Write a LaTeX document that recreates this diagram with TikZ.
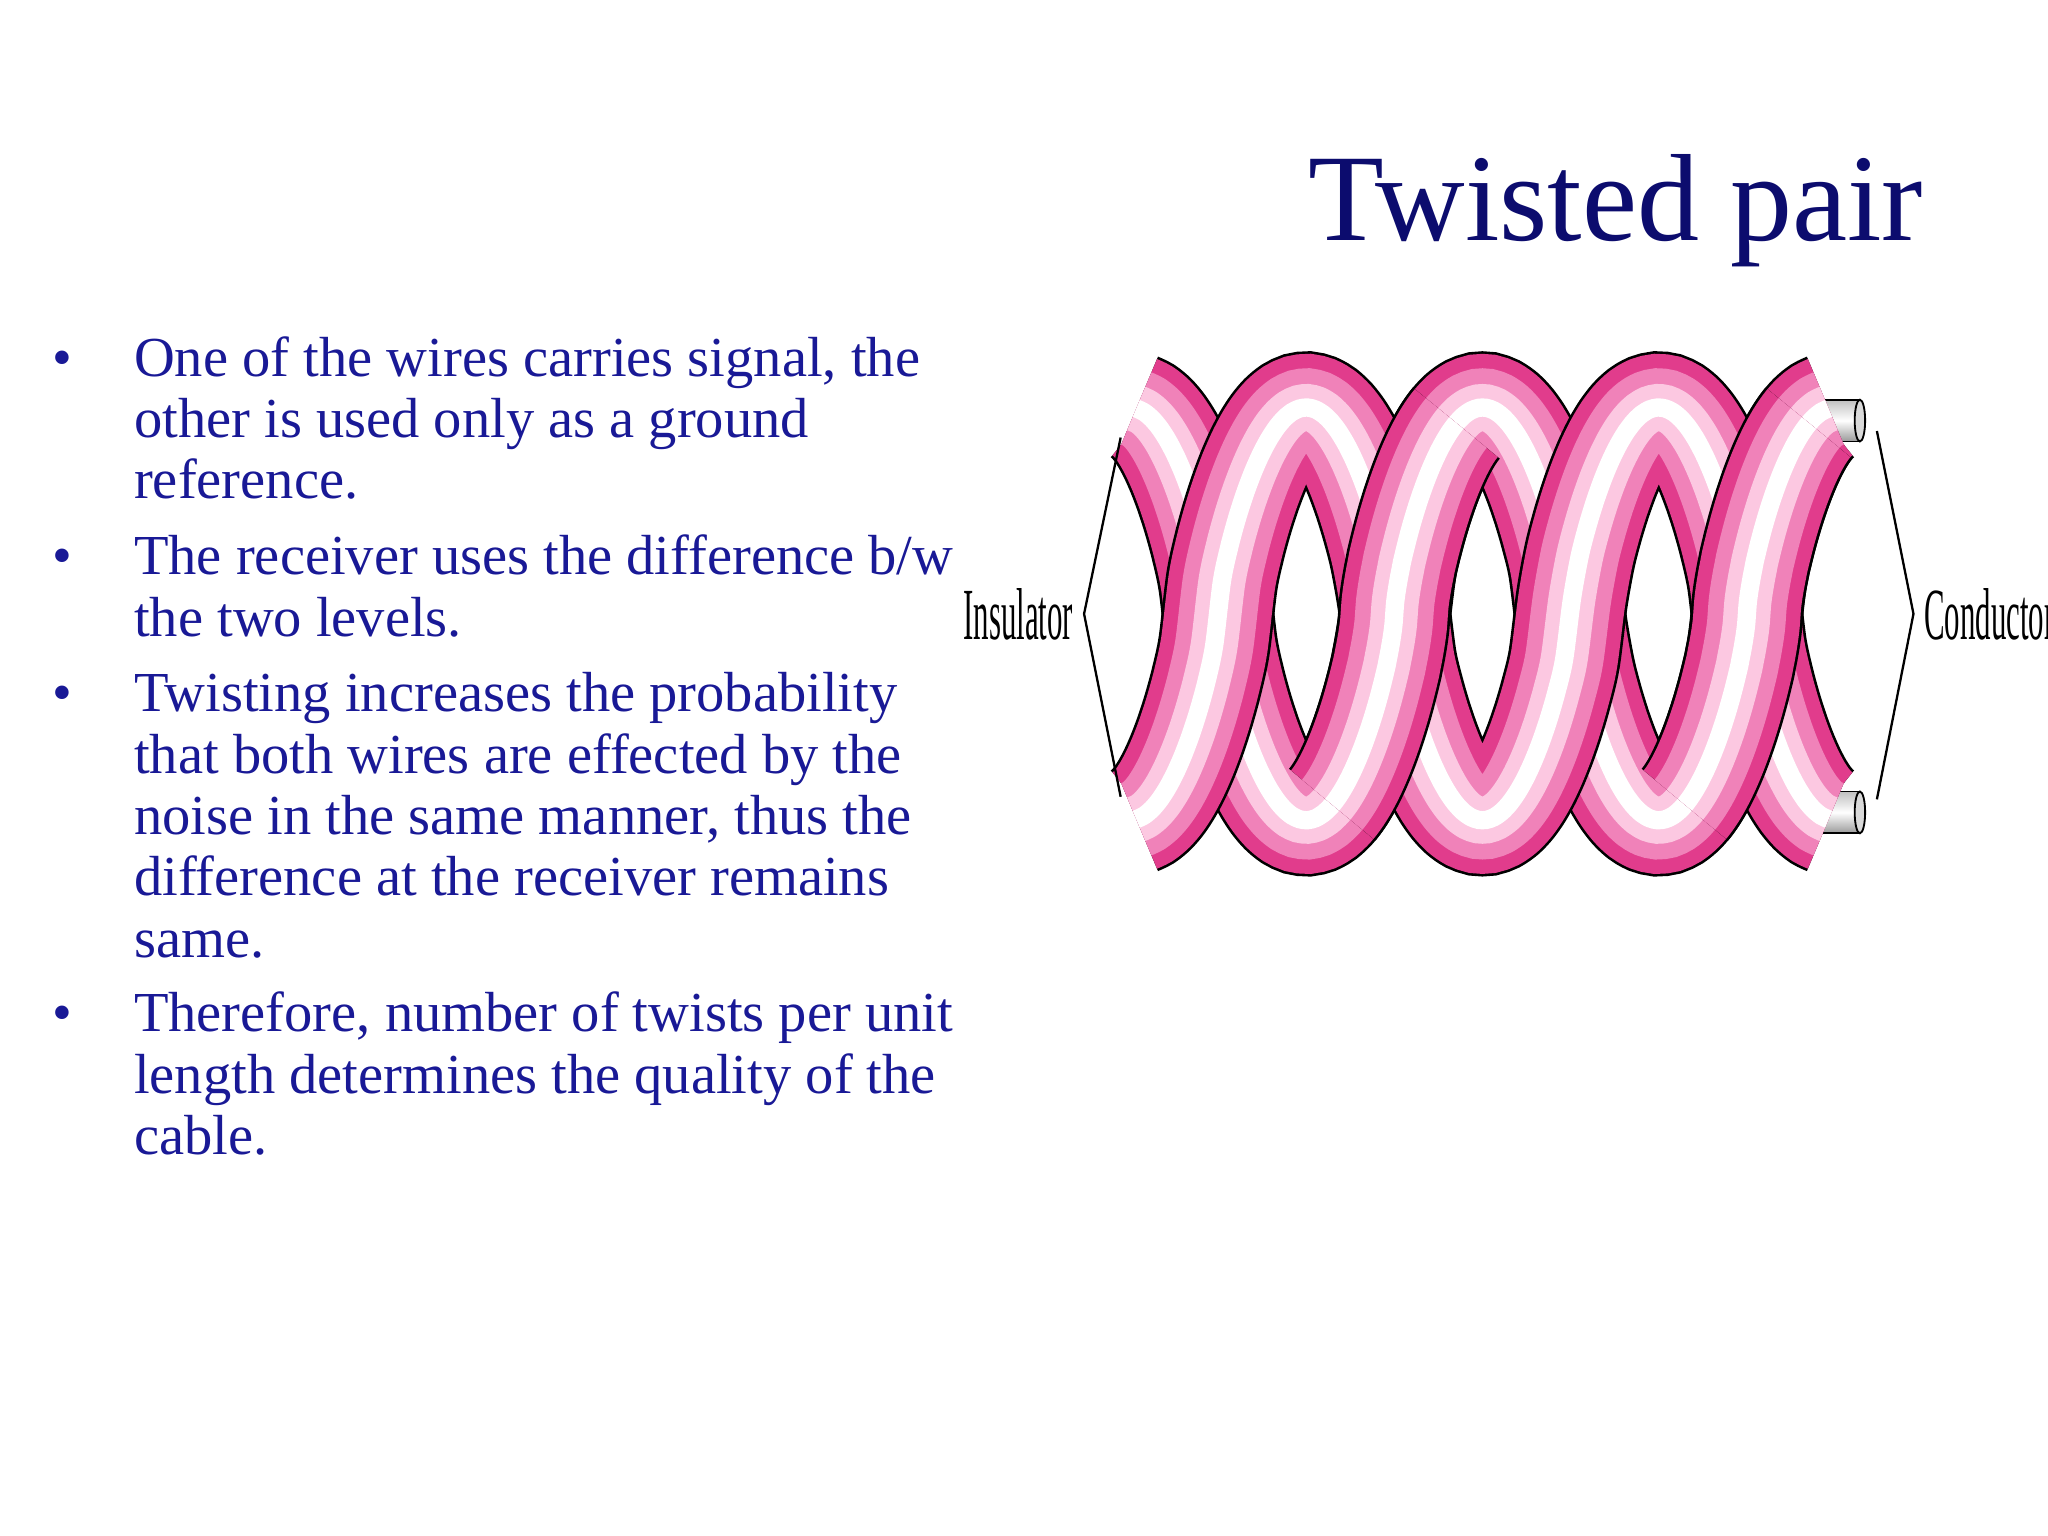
\documentclass[tikz,border=0pt]{standalone}
\usepackage{fontspec}
\setmainfont{Liberation Serif}
\definecolor{navy}{RGB}{12,12,110}
\definecolor{txt}{RGB}{25,25,150}
\definecolor{pinkA}{RGB}{225,60,140}
\definecolor{pinkM}{RGB}{240,130,185}
\definecolor{pinkB}{RGB}{252,200,225}
\newcommand{\wireseg}[3]{% sign, from, to
  \foreach \w/\c in {0.86/black,0.82/pinkA,0.6/pinkM,0.36/pinkB,0.14/white}{
    \draw[\c,line width=\w cm,line cap=butt] plot[domain=#2:#3,samples=90,smooth]
      (\x,{470-#1*158*sign(cos(deg(2*pi*(\x-1000)/270)))*abs(cos(deg(2*pi*(\x-1000)/270)))^0.7});
  }}
\begin{document}
\begin{tikzpicture}[x=0.01cm,y=-0.01cm,
  body/.style={anchor=base west,inner sep=0,text=txt,font=\fontsize{12.3pt}{13pt}\selectfont},
  bul/.style={anchor=base,inner sep=0,text=txt,font=\fontsize{12.3pt}{13pt}\selectfont},
  lbl/.style={inner sep=0,font=\fontsize{16pt}{16pt}\selectfont,xscale=0.42}]
\useasboundingbox (0,0) rectangle (1568,1176);
\node[anchor=base east,inner sep=0,text=navy,font=\fontsize{27pt}{30pt}\selectfont] (title) at (1473,184) {Twisted pair};
% bullets
\foreach \y in {288,440,545,790} \node[bul] at (48,\y) {•};
\node[body] (l1) at (102,288) {One of the wires carries signal, the};
\node[body] (l2) at (102,335) {other is used only as a ground};
\node[body] (l3) at (102,382) {reference.};
\node[body] (l4) at (102,440) {The receiver uses the difference b/w};
\node[body] (l5) at (102,487) {the two levels.};
\node[body] (l6) at (102,545) {Twisting increases the probability};
\node[body] (l7) at (102,592) {that both wires are effected by the};
\node[body] (l8) at (102,639) {noise in the same manner, thus the};
\node[body] (l9) at (102,686) {difference at the receiver remains};
\node[body] (l10) at (102,733) {same.};
\node[body] (l11) at (102,790) {Therefore, number of twists per unit};
\node[body] (l12) at (102,837) {length determines the quality of the};
\node[body] (l13) at (102,884) {cable.};
% conductors
\foreach \yy in {322,622}{
  \shade[top color=gray!50,bottom color=gray!80,middle color=white,draw=black,line width=0.4pt] (1395,\yy-16) rectangle (1424,\yy+16);
  \draw[line width=0.4pt,fill=gray!30] (1424,\yy) ellipse (4 and 16);
}
% wires
\wireseg{-1}{870}{1400}
\wireseg{1}{870}{1400}
\wireseg{-1}{1020}{1115}
\wireseg{-1}{1290}{1385}
% braces
\draw[line width=0.5pt] (858,335) -- (830,470) -- (858,610);
\draw[line width=0.5pt] (1437,330) -- (1465,470) -- (1437,612);
\node[lbl,anchor=east] (ins) at (822,470) {Insulator};
\node[lbl,anchor=west] (con) at (1473,470) {Conductors};
\end{tikzpicture}
\end{document}
